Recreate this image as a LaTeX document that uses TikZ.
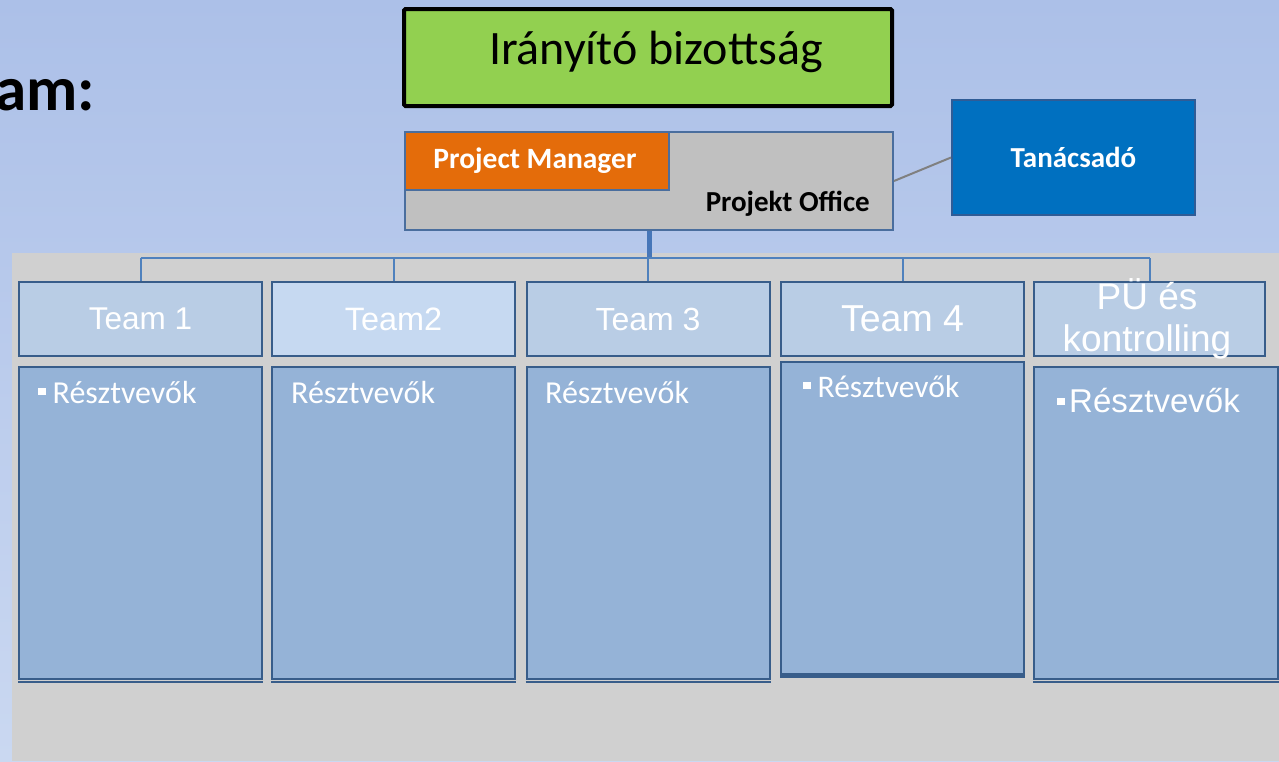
\documentclass[tikz,border=0pt]{standalone}
\usepackage{fontspec}
\setmainfont{Carlito}
\newfontfamily\arialf{Liberation Sans}
\newcommand\bulmark[1]{\raisebox{#1}{\rule{7.5pt}{7.5pt}}\hspace{7pt}}
\definecolor{bgtop}{HTML}{ACC0E8}
\definecolor{bgbot}{HTML}{CAD8F1}
\definecolor{panel}{HTML}{D0D0D0}
\definecolor{grn}{HTML}{92D050}
\definecolor{pogray}{HTML}{C0C0C0}
\definecolor{poedge}{HTML}{4A6E9E}
\definecolor{orng}{HTML}{E46C0A}
\definecolor{tanblue}{HTML}{0070C0}
\definecolor{tanedge}{HTML}{2F5C96}
\definecolor{hdrfill}{HTML}{B9CDE5}
\definecolor{hdrlight}{HTML}{C6D9F1}
\definecolor{boxedge}{HTML}{385D8A}
\definecolor{bodyfill}{HTML}{95B3D7}
\definecolor{conn}{HTML}{4F81BD}
\definecolor{stemc}{HTML}{4676B8}
\begin{document}
\begin{tikzpicture}[x=1pt,y=-1pt,
  hdr/.style={draw=boxedge,line width=2pt,fill=hdrfill,minimum width=243pt,minimum height=74pt,inner sep=0pt,text=white,font=\arialf\fontsize{31.5}{36}\selectfont,align=center},
  bodybox/.style={draw=boxedge,line width=2pt,fill=bodyfill,minimum width=243pt,minimum height=312pt,inner sep=0pt},
  rtxt/.style={anchor=base west,inner sep=0pt,text=white,font=\fontsize{32}{36}\selectfont},
  connline/.style={draw=conn,line width=2pt},
  shadowline/.style={draw=boxedge,line width=2.5pt},
]
\useasboundingbox (0,0) rectangle (1279,761);
\fill[top color=bgtop,bottom color=bgbot] (0,0) rectangle (1279,761);
\fill[panel] (12,253) rectangle (1279,761);

% title fragment
\node[anchor=base east,inner sep=0pt,font=\bfseries\fontsize{63}{70}\selectfont] (title) at (95,110) {am:};

% steering committee
\node[draw=black,line width=4pt,rounded corners=1.5pt,fill=grn,minimum width=488pt,minimum height=97pt,inner sep=0pt] (ib) at (648,57.5) {};
\node[inner sep=0pt,font=\fontsize{48}{56}\selectfont] (ibt) at (656,52) {Irányító bizottság};

% project office
\node[draw=poedge,line width=2pt,fill=pogray,minimum width=488pt,minimum height=98pt,inner sep=0pt] (po) at (649,181) {};
\node[draw=poedge,line width=2pt,fill=orng,minimum width=264pt,minimum height=58pt,inner sep=0pt] (pm) at (537,161) {};
\node[inner sep=0pt,text=white,font=\bfseries\fontsize{29.5}{34}\selectfont] (pmt) at (535,161) {Project Manager};
\node[anchor=base east,inner sep=0pt,font=\bfseries\fontsize{29}{34}\selectfont] (pot) at (870,211) {Projekt Office};

% advisor
\node[draw=tanedge,line width=2pt,fill=tanblue,minimum width=243pt,minimum height=115pt,inner sep=0pt,text=white,font=\bfseries\fontsize{29}{34}\selectfont] (tan) at (1073.5,157.5) {Tanácsadó};
\draw[draw=gray,line width=2pt] (po.east) -- (tan.west);

% team headers
\node[hdr] (h1) at (140.5,319) {Team 1};
\node[hdr,fill=hdrlight,font=\arialf\fontsize{32.4}{36}\selectfont] (h2) at (393.5,319) {Team2};
\node[hdr,font=\arialf\fontsize{32}{36}\selectfont] (h3) at (648,319) {Team 3};
\node[hdr,font=\arialf\fontsize{37.5}{42}\selectfont] (h4) at (902.5,319) {Team 4};
\node[hdr,minimum width=231pt] (h5) at (1149.5,319) {};
\node[inner sep=0pt,text=white,align=center,font=\arialf\fontsize{37}{42}\selectfont] (h5t) at (1147,319) {PÜ és\\kontrolling};

% connectors
\coordinate (bus) at (649,258);
\draw[draw=stemc,line width=5pt] (po.south) -- (bus);
\draw[connline] (h1.north |- bus) -- (h5.north |- bus);
\foreach \n in {h1,h2,h3,h4,h5} \draw[connline] (\n.north |- bus) -- (\n.north);

% body boxes
\node[bodybox] (b1) at (140.5,523) {};
\node[bodybox] (b2) at (393.5,523) {};
\node[bodybox] (b3) at (648,523) {};
\node[bodybox] (b4) at (902.5,517.5) {};
\node[bodybox,minimum width=244pt] (b5) at (1156,523) {};
\foreach \n in {b1,b2,b3,b4,b5} \draw[shadowline] ([yshift=-2pt]\n.south west) -- ([yshift=-2pt]\n.south east);

\node[rtxt] (r1) at (38,403) {\bulmark{8pt}Résztvevők};
\node[rtxt] (r2) at (291,403) {Résztvevők};
\node[rtxt] (r3) at (545,403) {Résztvevők};
\node[rtxt,font=\fontsize{31.5}{36}\selectfont] (r4) at (803,397) {\bulmark{8pt}Résztvevők};
\node[rtxt,font=\arialf\fontsize{33}{38}\selectfont] (r5) at (1057,412) {\bulmark{7pt}\hspace{-2.5pt}Résztvevők};
\end{tikzpicture}
\end{document}
